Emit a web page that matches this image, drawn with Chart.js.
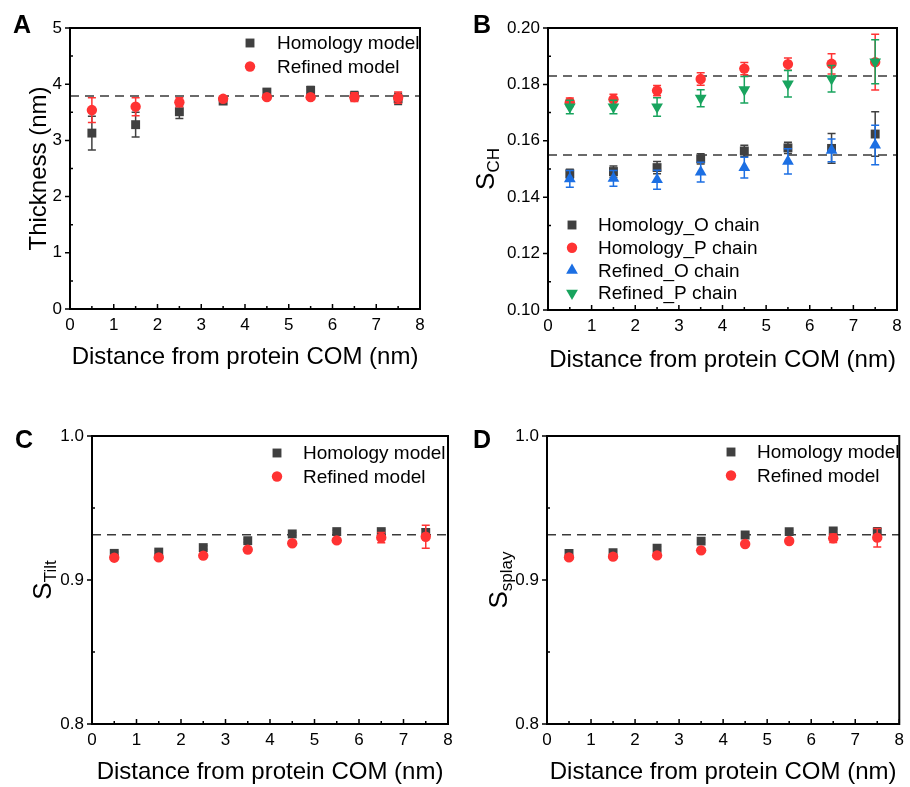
<!DOCTYPE html>
<html>
<head>
<meta charset="utf-8">
<script src="https://cdn.jsdelivr.net/npm/chart.js@4.4.1/dist/chart.umd.min.js"></script>
<style>
  body { margin: 0; background: #fff; }
  #page { position: relative; width: 910px; height: 787px; overflow: hidden; }
  canvas { position: absolute; }
</style>
</head>
<body>
<div id="page">
  <canvas id="panelA" width="450" height="390" style="left:0;top:0"></canvas>
  <canvas id="panelB" width="460" height="390" style="left:450px;top:0"></canvas>
  <canvas id="panelC" width="470" height="387" style="left:0;top:400px"></canvas>
  <canvas id="panelD" width="460" height="387" style="left:450px;top:400px"></canvas>
</div>
<script>
const FONT = '"Liberation Sans", Arial, sans-serif';

// distance from protein COM (nm)
const distance = [0.5, 1.5, 2.5, 3.5, 4.5, 5.5, 6.5, 7.5];

// A: thickness
const thickHom = [3.13, 3.28, 3.51, 3.70, 3.86, 3.89, 3.79, 3.74];
const thickHomErr = [0.30, 0.22, 0.12, 0.05, 0.05, 0.07, 0.08, 0.10];
const thickRef = [3.54, 3.60, 3.68, 3.74, 3.77, 3.77, 3.77, 3.76];
const thickRefErr = [0.22, 0.16, 0.08, 0.04, 0.04, 0.04, 0.08, 0.10];
const thickLine = [3.79];

// B: S_CH
const schHomO = [0.1483, 0.1491, 0.1505, 0.1536, 0.1564, 0.1575, 0.1573, 0.1624];
const schHomOErr = [0.0016, 0.0020, 0.0022, 0.0018, 0.0020, 0.0020, 0.0053, 0.0079];
const schHomP = [0.1737, 0.1747, 0.1778, 0.1819, 0.1856, 0.1872, 0.1873, 0.1879];
const schHomPErr = [0.0015, 0.0018, 0.0018, 0.0022, 0.0022, 0.0022, 0.0036, 0.0099];
const schRefO = [0.1465, 0.1467, 0.1462, 0.1489, 0.1505, 0.1527, 0.1566, 0.1585];
const schRefOErr = [0.0030, 0.0028, 0.0034, 0.0035, 0.0037, 0.0045, 0.0040, 0.0070];
const schRefP = [0.1720, 0.1720, 0.1720, 0.1751, 0.1781, 0.1802, 0.1820, 0.1880];
const schRefPErr = [0.0024, 0.0024, 0.0033, 0.0030, 0.0047, 0.0047, 0.0047, 0.0078];
const schLines = [0.183, 0.155];

// C: S_Tilt
const tiltHom = [0.9185, 0.9194, 0.9225, 0.9273, 0.9320, 0.9336, 0.9336, 0.9330];
const tiltHomErr = [0.0010, 0.0010, 0.0012, 0.0010, 0.0010, 0.0010, 0.0015, 0.0025];
const tiltRef = [0.9155, 0.9157, 0.9169, 0.9211, 0.9255, 0.9275, 0.9294, 0.9300];
const tiltRefErr = [0.0010, 0.0010, 0.0010, 0.0010, 0.0010, 0.0010, 0.0035, 0.0080];
const tiltLine = [0.9315];

// D: S_splay
const splayHom = [0.9185, 0.9190, 0.9220, 0.9270, 0.9313, 0.9336, 0.9340, 0.9333];
const splayHomErr = [0.0010, 0.0010, 0.0012, 0.0010, 0.0010, 0.0010, 0.0015, 0.0030];
const splayRef = [0.9157, 0.9162, 0.9171, 0.9206, 0.9250, 0.9271, 0.9290, 0.9294];
const splayRefErr = [0.0010, 0.0010, 0.0010, 0.0010, 0.0010, 0.0010, 0.0030, 0.0064];
const splayLine = [0.9315];

const xTicks = { min: 0, max: 8, step: 1 };
const xTitle = 'Distance from protein COM (nm)';

const GRAY = '#404040', RED = '#ff3333', BLUE = '#1c6fe3', GREEN = '#18a45e';

function series(label, ys, errs, color, style, radius, rotation, order) {
  return {
    label: label,
    data: ys.map((y, i) => ({ x: distance[i], y: y })),
    errors: errs,
    backgroundColor: color,
    borderColor: color,
    pointStyle: style,
    pointRadius: radius,
    pointRotation: rotation || 0,
    pointBorderWidth: 0,
    showLine: false,
    order: order
  };
}

function refLine(v) {
  return {
    type: 'line',
    isRef: true,
    data: [{ x: xTicks.min, y: v }, { x: xTicks.max, y: v }],
    borderColor: '#3a3a3a',
    borderWidth: 1.5,
    borderDash: [9, 6],
    pointRadius: 0,
    order: 100
  };
}

// error bars, drawn under each series' own markers
const errorBars = {
  id: 'errorBars',
  beforeDatasetDraw(chart, args) {
    const ds = chart.data.datasets[args.index];
    if (!ds.errors) return;
    const ctx = chart.ctx, xs = chart.scales.x, ys = chart.scales.y;
    ctx.save();
    ctx.strokeStyle = ds.errColor || ds.backgroundColor;
    ctx.lineWidth = 1.5;
    ds.data.forEach((p, i) => {
      const e = ds.errors[i];
      const px = xs.getPixelForValue(p.x);
      const top = ys.getPixelForValue(p.y + e);
      const bot = ys.getPixelForValue(p.y - e);
      ctx.beginPath();
      ctx.moveTo(px, top); ctx.lineTo(px, bot);
      ctx.moveTo(px - 4, top); ctx.lineTo(px + 4, top);
      ctx.moveTo(px - 4, bot); ctx.lineTo(px + 4, bot);
      ctx.stroke();
    });
    ctx.restore();
  }
};

// frame, inward ticks, titles, panel letter and legend
const panelDecor = {
  id: 'panelDecor',
  afterDraw(chart, args, opts) {
    const ctx = chart.ctx, a = chart.chartArea;
    const xs = chart.scales.x, ys = chart.scales.y;
    ctx.save();
    ctx.strokeStyle = '#000';
    ctx.lineWidth = 2;
    ctx.strokeRect(a.left, a.top, a.right - a.left, a.bottom - a.top);

    ctx.lineWidth = 1.5;
    ctx.beginPath();
    for (let v = xTicks.min; v <= xTicks.max + 1e-9; v += xTicks.step / 2) {
      const px = xs.getPixelForValue(v);
      const major = Math.abs(v - Math.round(v)) < 1e-9;
      ctx.moveTo(px, a.bottom);
      ctx.lineTo(px, a.bottom - (major ? 5 : 3));
    }
    const n = Math.round((opts.yMax - opts.yMin) / (opts.yStep / 2));
    for (let k = 0; k <= n; k++) {
      const v = opts.yMin + k * opts.yStep / 2;
      const py = ys.getPixelForValue(v);
      if (k % 2 === 0) {
        ctx.moveTo(a.left, py); ctx.lineTo(a.left - 5, py);
      } else {
        ctx.moveTo(a.left, py); ctx.lineTo(a.left + 3, py);
      }
    }
    ctx.stroke();

    ctx.fillStyle = '#000';
    // x title
    ctx.font = '24px ' + FONT;
    ctx.textAlign = 'center';
    ctx.textBaseline = 'middle';
    ctx.fillText(xTitle, (a.left + a.right) / 2, a.bottom + opts.xTitleOffset);

    // y title, rotated, with optional subscript
    ctx.save();
    ctx.translate(opts.yTitleX, (a.top + a.bottom) / 2);
    ctx.rotate(-Math.PI / 2);
    ctx.textAlign = 'left';
    ctx.textBaseline = 'alphabetic';
    if (opts.ySub) {
      ctx.font = '26px ' + FONT;
      const w1 = ctx.measureText(opts.yMain).width;
      ctx.font = '17px ' + FONT;
      const w2 = ctx.measureText(opts.ySub).width;
      const x0 = -(w1 + w2) / 2;
      ctx.font = '26px ' + FONT;
      ctx.fillText(opts.yMain, x0, 9);
      ctx.font = '17px ' + FONT;
      ctx.fillText(opts.ySub, x0 + w1, 14);
    } else {
      ctx.font = '24px ' + FONT;
      const w = ctx.measureText(opts.yMain).width;
      ctx.fillText(opts.yMain, -w / 2, 8);
    }
    ctx.restore();

    // panel letter
    ctx.font = 'bold 25px ' + FONT;
    ctx.textAlign = 'left';
    ctx.textBaseline = 'alphabetic';
    ctx.fillText(opts.letter, opts.letterX, opts.letterY);

    // legend
    const L = opts.legend;
    let row = 0;
    chart.data.datasets.forEach(ds => {
      if (ds.isRef) return;
      const y = L.y + row * L.dy;
      ctx.fillStyle = ds.backgroundColor;
      Chart.helpers.drawPoint(ctx, {
        pointStyle: ds.pointStyle, radius: ds.pointRadius,
        rotation: ds.pointRotation, borderWidth: 0
      }, L.x, y);
      ctx.fillStyle = '#000';
      ctx.font = '19px ' + FONT;
      ctx.textBaseline = 'middle';
      ctx.fillText(ds.label, L.textX, y + 1);
      row++;
    });
    ctx.restore();
  }
};

function makePanel(id, datasets, box, deco) {
  const tickFont = { family: FONT, size: 17 };
  new Chart(document.getElementById(id), {
    type: 'scatter',
    data: { datasets: datasets },
    options: {
      responsive: false,
      animation: false,
      devicePixelRatio: 1,
      layout: { padding: { left: 0, right: box.right, top: box.top, bottom: 0 } },
      plugins: { legend: { display: false }, tooltip: { enabled: false }, panelDecor: deco },
      scales: {
        x: {
          type: 'linear', min: xTicks.min, max: xTicks.max,
          ticks: { stepSize: xTicks.step, color: '#000', font: tickFont, padding: 6 },
          grid: { display: false, drawTicks: false },
          border: { display: false },
          afterFit: s => { s.height = box.xHeight; }
        },
        y: {
          type: 'linear', min: deco.yMin, max: deco.yMax,
          ticks: {
            stepSize: deco.yStep, color: '#000', font: tickFont, padding: 8,
            callback: v => v.toFixed(deco.yDec)
          },
          grid: { display: false, drawTicks: false },
          border: { display: false },
          afterFit: s => { s.width = box.yWidth; }
        }
      }
    },
    plugins: [errorBars, panelDecor]
  });
}

makePanel('panelA', [
  series('Homology model', thickHom, thickHomErr, GRAY, 'rect', 6.3, 0, 2),
  series('Refined model', thickRef, thickRefErr, RED, 'circle', 5.2, 0, 1),
  ...thickLine.map(refLine)
], { right: 30, top: 28, xHeight: 81, yWidth: 70 }, {
  letter: 'A', letterX: 13, letterY: 33, yMain: 'Thickness (nm)', yTitleX: 38, xTitleOffset: 48,
  yMin: 0, yMax: 5, yStep: 1, yDec: 0,
  legend: { x: 250, textX: 277, y: 43, dy: 23.5 }
});

makePanel('panelB', [
  series('Homology_O chain', schHomO, schHomOErr, GRAY, 'rect', 6.3, 0, 4),
  series('Homology_P chain', schHomP, schHomPErr, RED, 'circle', 5.2, 0, 3),
  series('Refined_O chain', schRefO, schRefOErr, BLUE, 'triangle', 6.8, 0, 2),
  series('Refined_P chain', schRefP, schRefPErr, GREEN, 'triangle', 6.8, 180, 1),
  ...schLines.map(refLine)
], { right: 13, top: 28, xHeight: 80, yWidth: 98 }, {
  letter: 'B', letterX: 23, letterY: 33, yMain: 'S', ySub: 'CH', yTitleX: 35, xTitleOffset: 50,
  yMin: 0.10, yMax: 0.20, yStep: 0.02, yDec: 2,
  legend: { x: 122, textX: 148, y: 225, dy: 22.7 }
});

makePanel('panelC', [
  series('Homology model', tiltHom, tiltHomErr, GRAY, 'rect', 6.3, 0, 2),
  series('Refined model', tiltRef, tiltRefErr, RED, 'circle', 5.2, 0, 1),
  ...tiltLine.map(refLine)
], { right: 22, top: 36, xHeight: 63, yWidth: 92 }, {
  letter: 'C', letterX: 15, letterY: 48, yMain: 'S', ySub: 'Tilt', yTitleX: 42, xTitleOffset: 48,
  yMin: 0.8, yMax: 1.0, yStep: 0.1, yDec: 1,
  legend: { x: 277, textX: 303, y: 53, dy: 23.5 }
});

makePanel('panelD', [
  series('Homology model', splayHom, splayHomErr, GRAY, 'rect', 6.3, 0, 2),
  series('Refined model', splayRef, splayRefErr, RED, 'circle', 5.2, 0, 1),
  ...splayLine.map(refLine)
], { right: 5, top: 36, xHeight: 63, yWidth: 97 }, {
  letter: 'D', letterX: 23, letterY: 48, yMain: 'S', ySub: 'splay', yTitleX: 48, xTitleOffset: 48,
  yMin: 0.8, yMax: 1.0, yStep: 0.1, yDec: 1,
  legend: { x: 281, textX: 307, y: 52, dy: 23.5 }
});
</script>
</body>
</html>
